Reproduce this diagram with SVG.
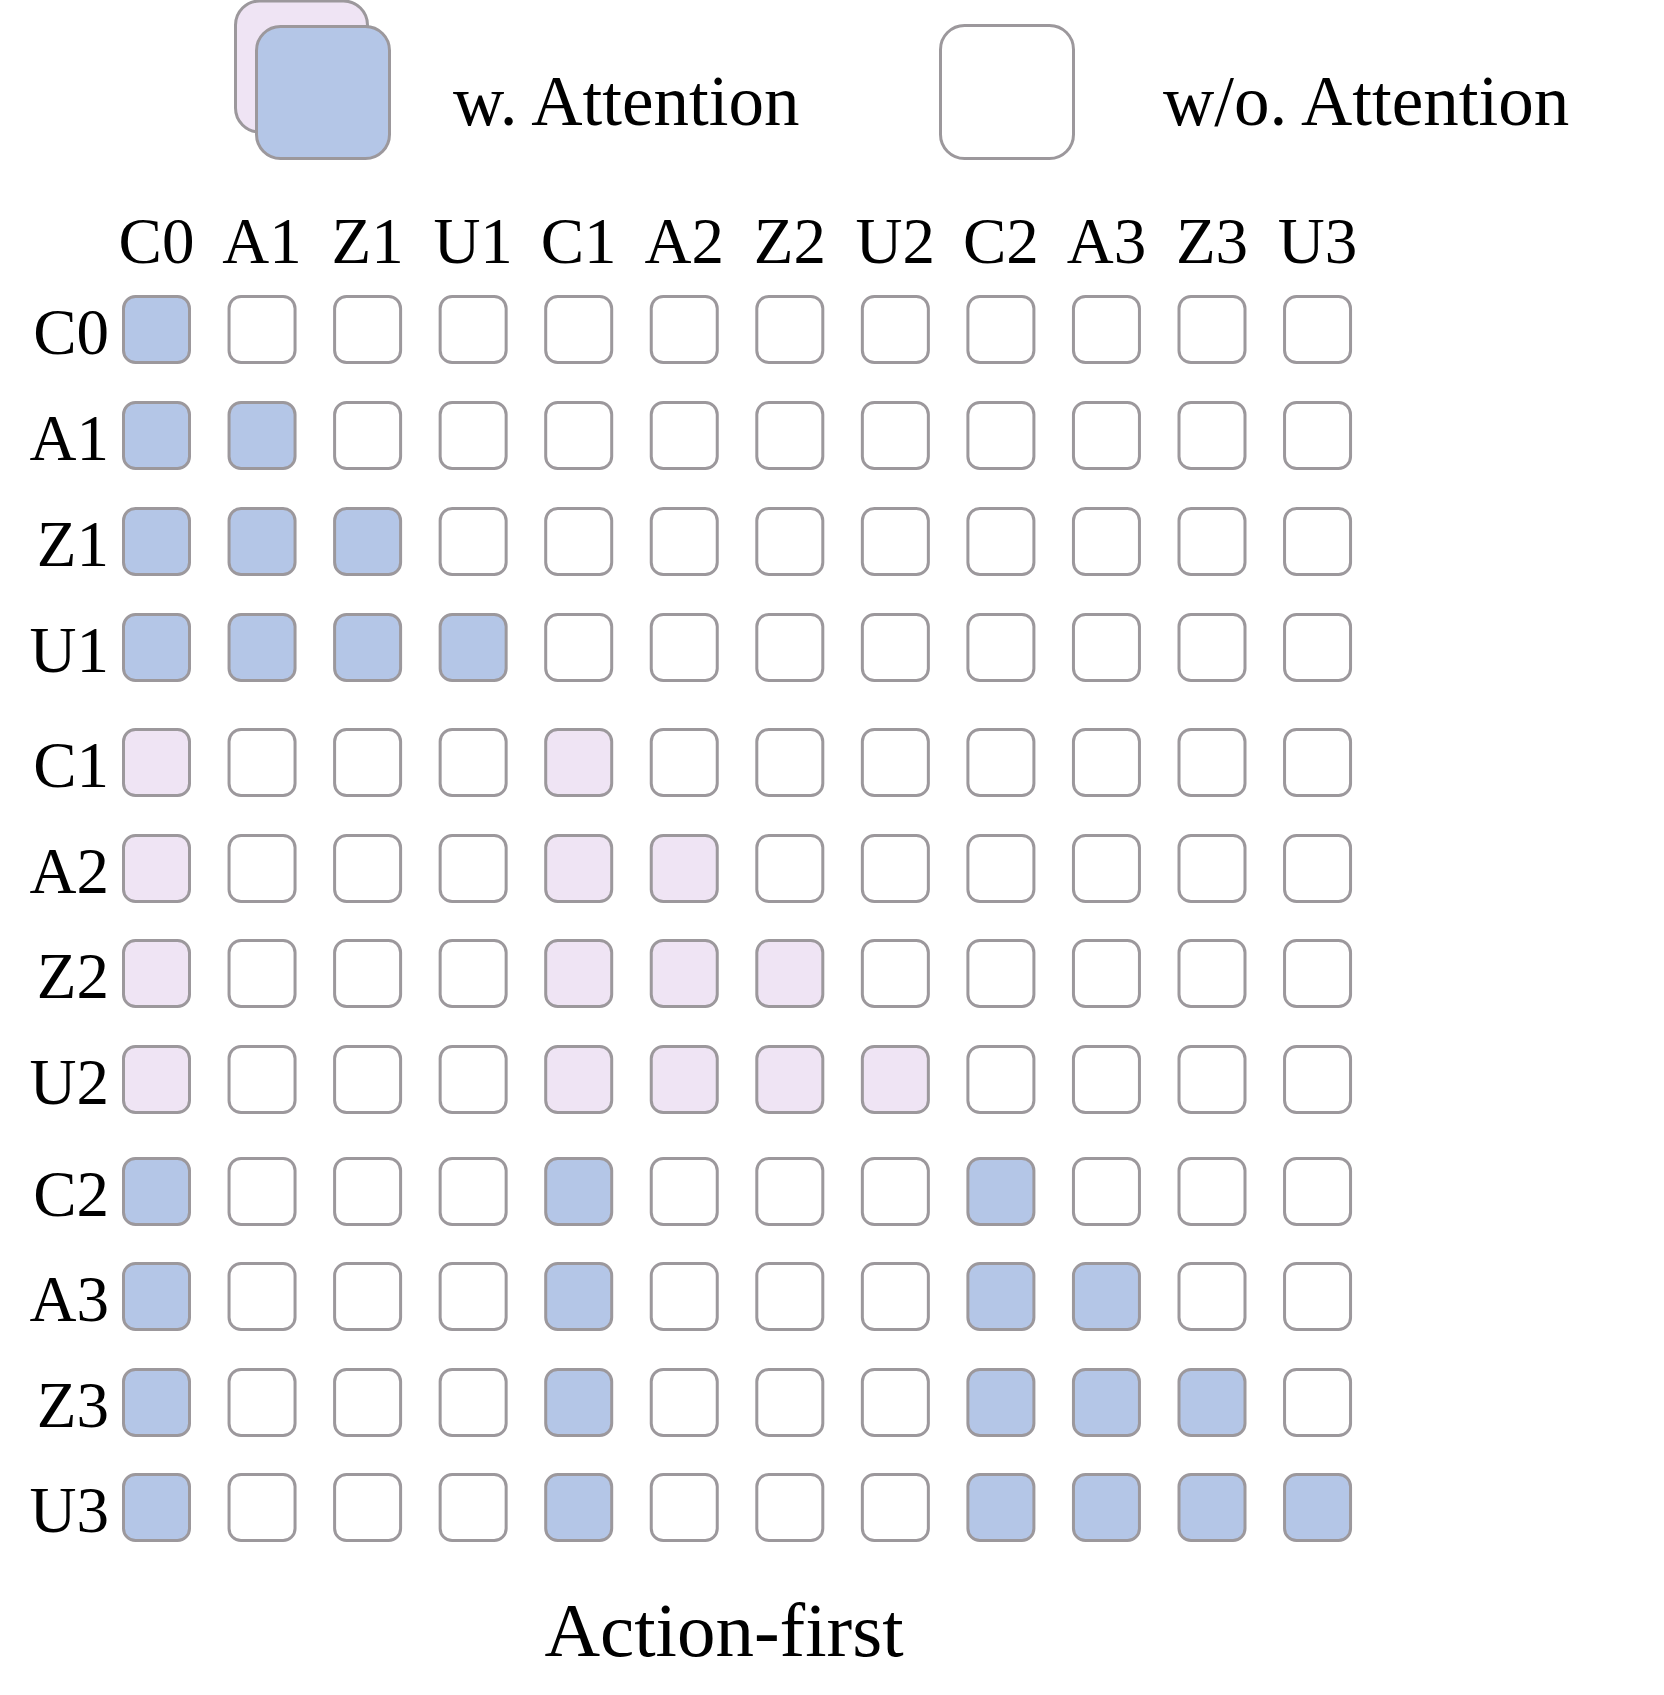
<svg xmlns="http://www.w3.org/2000/svg" width="1664" height="1695" viewBox="0 0 1664 1695">
<style>
  .c{stroke:#9c989c;stroke-width:3;fill:#ffffff}
  .b{fill:#b4c6e7}
  .p{fill:#efe4f4}
  .t{font-family:"Liberation Serif","Times New Roman",serif;fill:#000000}
  .h{font-size:65px;text-anchor:middle}
  .r{font-size:65px;text-anchor:end}
  .lg{font-size:71px}
</style>
<rect x="0" y="0" width="1664" height="1695" fill="#ffffff"/>
<g id="legend">
  <g id="legend-with">
    <rect class="c p" x="235.5" y="1" width="132" height="131" rx="24"/>
    <rect class="c b" x="256.5" y="26.5" width="133" height="132" rx="24"/>
    <text class="t lg" x="453" y="125">w. Attention</text>
  </g>
  <g id="legend-without">
    <rect class="c" x="940.5" y="25.5" width="133" height="133" rx="24"/>
    <text class="t lg" x="1163" y="125">w/o. Attention</text>
  </g>
</g>
<g id="col-headers">
  <text class="t h" x="156.5" y="263">C0</text>
  <text class="t h" x="262.05" y="263">A1</text>
  <text class="t h" x="367.6" y="263">Z1</text>
  <text class="t h" x="473.15" y="263">U1</text>
  <text class="t h" x="578.7" y="263">C1</text>
  <text class="t h" x="684.25" y="263">A2</text>
  <text class="t h" x="789.8" y="263">Z2</text>
  <text class="t h" x="895.35" y="263">U2</text>
  <text class="t h" x="1000.9" y="263">C2</text>
  <text class="t h" x="1106.45" y="263">A3</text>
  <text class="t h" x="1212" y="263">Z3</text>
  <text class="t h" x="1317.55" y="263">U3</text>
</g>
<g id="row-labels">
  <text class="t r" x="109" y="353.5">C0</text>
  <text class="t r" x="109" y="459.5">A1</text>
  <text class="t r" x="109" y="565.5">Z1</text>
  <text class="t r" x="109" y="671.5">U1</text>
  <text class="t r" x="109" y="786.5">C1</text>
  <text class="t r" x="109" y="892.5">A2</text>
  <text class="t r" x="109" y="997.5">Z2</text>
  <text class="t r" x="109" y="1103.5">U2</text>
  <text class="t r" x="109" y="1215.5">C2</text>
  <text class="t r" x="109" y="1320.5">A3</text>
  <text class="t r" x="109" y="1426.5">Z3</text>
  <text class="t r" x="109" y="1531.5">U3</text>
</g>
<g id="row-C0">
  <rect id="C0-C0" class="c b" x="123.5" y="296.5" width="66" height="66" rx="12"/>
  <rect id="C0-A1" class="c" x="229.05" y="296.5" width="66" height="66" rx="12"/>
  <rect id="C0-Z1" class="c" x="334.6" y="296.5" width="66" height="66" rx="12"/>
  <rect id="C0-U1" class="c" x="440.15" y="296.5" width="66" height="66" rx="12"/>
  <rect id="C0-C1" class="c" x="545.7" y="296.5" width="66" height="66" rx="12"/>
  <rect id="C0-A2" class="c" x="651.25" y="296.5" width="66" height="66" rx="12"/>
  <rect id="C0-Z2" class="c" x="756.8" y="296.5" width="66" height="66" rx="12"/>
  <rect id="C0-U2" class="c" x="862.35" y="296.5" width="66" height="66" rx="12"/>
  <rect id="C0-C2" class="c" x="967.9" y="296.5" width="66" height="66" rx="12"/>
  <rect id="C0-A3" class="c" x="1073.45" y="296.5" width="66" height="66" rx="12"/>
  <rect id="C0-Z3" class="c" x="1179" y="296.5" width="66" height="66" rx="12"/>
  <rect id="C0-U3" class="c" x="1284.55" y="296.5" width="66" height="66" rx="12"/>
</g>
<g id="row-A1">
  <rect id="A1-C0" class="c b" x="123.5" y="402.5" width="66" height="66" rx="12"/>
  <rect id="A1-A1" class="c b" x="229.05" y="402.5" width="66" height="66" rx="12"/>
  <rect id="A1-Z1" class="c" x="334.6" y="402.5" width="66" height="66" rx="12"/>
  <rect id="A1-U1" class="c" x="440.15" y="402.5" width="66" height="66" rx="12"/>
  <rect id="A1-C1" class="c" x="545.7" y="402.5" width="66" height="66" rx="12"/>
  <rect id="A1-A2" class="c" x="651.25" y="402.5" width="66" height="66" rx="12"/>
  <rect id="A1-Z2" class="c" x="756.8" y="402.5" width="66" height="66" rx="12"/>
  <rect id="A1-U2" class="c" x="862.35" y="402.5" width="66" height="66" rx="12"/>
  <rect id="A1-C2" class="c" x="967.9" y="402.5" width="66" height="66" rx="12"/>
  <rect id="A1-A3" class="c" x="1073.45" y="402.5" width="66" height="66" rx="12"/>
  <rect id="A1-Z3" class="c" x="1179" y="402.5" width="66" height="66" rx="12"/>
  <rect id="A1-U3" class="c" x="1284.55" y="402.5" width="66" height="66" rx="12"/>
</g>
<g id="row-Z1">
  <rect id="Z1-C0" class="c b" x="123.5" y="508.5" width="66" height="66" rx="12"/>
  <rect id="Z1-A1" class="c b" x="229.05" y="508.5" width="66" height="66" rx="12"/>
  <rect id="Z1-Z1" class="c b" x="334.6" y="508.5" width="66" height="66" rx="12"/>
  <rect id="Z1-U1" class="c" x="440.15" y="508.5" width="66" height="66" rx="12"/>
  <rect id="Z1-C1" class="c" x="545.7" y="508.5" width="66" height="66" rx="12"/>
  <rect id="Z1-A2" class="c" x="651.25" y="508.5" width="66" height="66" rx="12"/>
  <rect id="Z1-Z2" class="c" x="756.8" y="508.5" width="66" height="66" rx="12"/>
  <rect id="Z1-U2" class="c" x="862.35" y="508.5" width="66" height="66" rx="12"/>
  <rect id="Z1-C2" class="c" x="967.9" y="508.5" width="66" height="66" rx="12"/>
  <rect id="Z1-A3" class="c" x="1073.45" y="508.5" width="66" height="66" rx="12"/>
  <rect id="Z1-Z3" class="c" x="1179" y="508.5" width="66" height="66" rx="12"/>
  <rect id="Z1-U3" class="c" x="1284.55" y="508.5" width="66" height="66" rx="12"/>
</g>
<g id="row-U1">
  <rect id="U1-C0" class="c b" x="123.5" y="614.5" width="66" height="66" rx="12"/>
  <rect id="U1-A1" class="c b" x="229.05" y="614.5" width="66" height="66" rx="12"/>
  <rect id="U1-Z1" class="c b" x="334.6" y="614.5" width="66" height="66" rx="12"/>
  <rect id="U1-U1" class="c b" x="440.15" y="614.5" width="66" height="66" rx="12"/>
  <rect id="U1-C1" class="c" x="545.7" y="614.5" width="66" height="66" rx="12"/>
  <rect id="U1-A2" class="c" x="651.25" y="614.5" width="66" height="66" rx="12"/>
  <rect id="U1-Z2" class="c" x="756.8" y="614.5" width="66" height="66" rx="12"/>
  <rect id="U1-U2" class="c" x="862.35" y="614.5" width="66" height="66" rx="12"/>
  <rect id="U1-C2" class="c" x="967.9" y="614.5" width="66" height="66" rx="12"/>
  <rect id="U1-A3" class="c" x="1073.45" y="614.5" width="66" height="66" rx="12"/>
  <rect id="U1-Z3" class="c" x="1179" y="614.5" width="66" height="66" rx="12"/>
  <rect id="U1-U3" class="c" x="1284.55" y="614.5" width="66" height="66" rx="12"/>
</g>
<g id="row-C1">
  <rect id="C1-C0" class="c p" x="123.5" y="729.5" width="66" height="66" rx="12"/>
  <rect id="C1-A1" class="c" x="229.05" y="729.5" width="66" height="66" rx="12"/>
  <rect id="C1-Z1" class="c" x="334.6" y="729.5" width="66" height="66" rx="12"/>
  <rect id="C1-U1" class="c" x="440.15" y="729.5" width="66" height="66" rx="12"/>
  <rect id="C1-C1" class="c p" x="545.7" y="729.5" width="66" height="66" rx="12"/>
  <rect id="C1-A2" class="c" x="651.25" y="729.5" width="66" height="66" rx="12"/>
  <rect id="C1-Z2" class="c" x="756.8" y="729.5" width="66" height="66" rx="12"/>
  <rect id="C1-U2" class="c" x="862.35" y="729.5" width="66" height="66" rx="12"/>
  <rect id="C1-C2" class="c" x="967.9" y="729.5" width="66" height="66" rx="12"/>
  <rect id="C1-A3" class="c" x="1073.45" y="729.5" width="66" height="66" rx="12"/>
  <rect id="C1-Z3" class="c" x="1179" y="729.5" width="66" height="66" rx="12"/>
  <rect id="C1-U3" class="c" x="1284.55" y="729.5" width="66" height="66" rx="12"/>
</g>
<g id="row-A2">
  <rect id="A2-C0" class="c p" x="123.5" y="835.5" width="66" height="66" rx="12"/>
  <rect id="A2-A1" class="c" x="229.05" y="835.5" width="66" height="66" rx="12"/>
  <rect id="A2-Z1" class="c" x="334.6" y="835.5" width="66" height="66" rx="12"/>
  <rect id="A2-U1" class="c" x="440.15" y="835.5" width="66" height="66" rx="12"/>
  <rect id="A2-C1" class="c p" x="545.7" y="835.5" width="66" height="66" rx="12"/>
  <rect id="A2-A2" class="c p" x="651.25" y="835.5" width="66" height="66" rx="12"/>
  <rect id="A2-Z2" class="c" x="756.8" y="835.5" width="66" height="66" rx="12"/>
  <rect id="A2-U2" class="c" x="862.35" y="835.5" width="66" height="66" rx="12"/>
  <rect id="A2-C2" class="c" x="967.9" y="835.5" width="66" height="66" rx="12"/>
  <rect id="A2-A3" class="c" x="1073.45" y="835.5" width="66" height="66" rx="12"/>
  <rect id="A2-Z3" class="c" x="1179" y="835.5" width="66" height="66" rx="12"/>
  <rect id="A2-U3" class="c" x="1284.55" y="835.5" width="66" height="66" rx="12"/>
</g>
<g id="row-Z2">
  <rect id="Z2-C0" class="c p" x="123.5" y="940.5" width="66" height="66" rx="12"/>
  <rect id="Z2-A1" class="c" x="229.05" y="940.5" width="66" height="66" rx="12"/>
  <rect id="Z2-Z1" class="c" x="334.6" y="940.5" width="66" height="66" rx="12"/>
  <rect id="Z2-U1" class="c" x="440.15" y="940.5" width="66" height="66" rx="12"/>
  <rect id="Z2-C1" class="c p" x="545.7" y="940.5" width="66" height="66" rx="12"/>
  <rect id="Z2-A2" class="c p" x="651.25" y="940.5" width="66" height="66" rx="12"/>
  <rect id="Z2-Z2" class="c p" x="756.8" y="940.5" width="66" height="66" rx="12"/>
  <rect id="Z2-U2" class="c" x="862.35" y="940.5" width="66" height="66" rx="12"/>
  <rect id="Z2-C2" class="c" x="967.9" y="940.5" width="66" height="66" rx="12"/>
  <rect id="Z2-A3" class="c" x="1073.45" y="940.5" width="66" height="66" rx="12"/>
  <rect id="Z2-Z3" class="c" x="1179" y="940.5" width="66" height="66" rx="12"/>
  <rect id="Z2-U3" class="c" x="1284.55" y="940.5" width="66" height="66" rx="12"/>
</g>
<g id="row-U2">
  <rect id="U2-C0" class="c p" x="123.5" y="1046.5" width="66" height="66" rx="12"/>
  <rect id="U2-A1" class="c" x="229.05" y="1046.5" width="66" height="66" rx="12"/>
  <rect id="U2-Z1" class="c" x="334.6" y="1046.5" width="66" height="66" rx="12"/>
  <rect id="U2-U1" class="c" x="440.15" y="1046.5" width="66" height="66" rx="12"/>
  <rect id="U2-C1" class="c p" x="545.7" y="1046.5" width="66" height="66" rx="12"/>
  <rect id="U2-A2" class="c p" x="651.25" y="1046.5" width="66" height="66" rx="12"/>
  <rect id="U2-Z2" class="c p" x="756.8" y="1046.5" width="66" height="66" rx="12"/>
  <rect id="U2-U2" class="c p" x="862.35" y="1046.5" width="66" height="66" rx="12"/>
  <rect id="U2-C2" class="c" x="967.9" y="1046.5" width="66" height="66" rx="12"/>
  <rect id="U2-A3" class="c" x="1073.45" y="1046.5" width="66" height="66" rx="12"/>
  <rect id="U2-Z3" class="c" x="1179" y="1046.5" width="66" height="66" rx="12"/>
  <rect id="U2-U3" class="c" x="1284.55" y="1046.5" width="66" height="66" rx="12"/>
</g>
<g id="row-C2">
  <rect id="C2-C0" class="c b" x="123.5" y="1158.5" width="66" height="66" rx="12"/>
  <rect id="C2-A1" class="c" x="229.05" y="1158.5" width="66" height="66" rx="12"/>
  <rect id="C2-Z1" class="c" x="334.6" y="1158.5" width="66" height="66" rx="12"/>
  <rect id="C2-U1" class="c" x="440.15" y="1158.5" width="66" height="66" rx="12"/>
  <rect id="C2-C1" class="c b" x="545.7" y="1158.5" width="66" height="66" rx="12"/>
  <rect id="C2-A2" class="c" x="651.25" y="1158.5" width="66" height="66" rx="12"/>
  <rect id="C2-Z2" class="c" x="756.8" y="1158.5" width="66" height="66" rx="12"/>
  <rect id="C2-U2" class="c" x="862.35" y="1158.5" width="66" height="66" rx="12"/>
  <rect id="C2-C2" class="c b" x="967.9" y="1158.5" width="66" height="66" rx="12"/>
  <rect id="C2-A3" class="c" x="1073.45" y="1158.5" width="66" height="66" rx="12"/>
  <rect id="C2-Z3" class="c" x="1179" y="1158.5" width="66" height="66" rx="12"/>
  <rect id="C2-U3" class="c" x="1284.55" y="1158.5" width="66" height="66" rx="12"/>
</g>
<g id="row-A3">
  <rect id="A3-C0" class="c b" x="123.5" y="1263.5" width="66" height="66" rx="12"/>
  <rect id="A3-A1" class="c" x="229.05" y="1263.5" width="66" height="66" rx="12"/>
  <rect id="A3-Z1" class="c" x="334.6" y="1263.5" width="66" height="66" rx="12"/>
  <rect id="A3-U1" class="c" x="440.15" y="1263.5" width="66" height="66" rx="12"/>
  <rect id="A3-C1" class="c b" x="545.7" y="1263.5" width="66" height="66" rx="12"/>
  <rect id="A3-A2" class="c" x="651.25" y="1263.5" width="66" height="66" rx="12"/>
  <rect id="A3-Z2" class="c" x="756.8" y="1263.5" width="66" height="66" rx="12"/>
  <rect id="A3-U2" class="c" x="862.35" y="1263.5" width="66" height="66" rx="12"/>
  <rect id="A3-C2" class="c b" x="967.9" y="1263.5" width="66" height="66" rx="12"/>
  <rect id="A3-A3" class="c b" x="1073.45" y="1263.5" width="66" height="66" rx="12"/>
  <rect id="A3-Z3" class="c" x="1179" y="1263.5" width="66" height="66" rx="12"/>
  <rect id="A3-U3" class="c" x="1284.55" y="1263.5" width="66" height="66" rx="12"/>
</g>
<g id="row-Z3">
  <rect id="Z3-C0" class="c b" x="123.5" y="1369.5" width="66" height="66" rx="12"/>
  <rect id="Z3-A1" class="c" x="229.05" y="1369.5" width="66" height="66" rx="12"/>
  <rect id="Z3-Z1" class="c" x="334.6" y="1369.5" width="66" height="66" rx="12"/>
  <rect id="Z3-U1" class="c" x="440.15" y="1369.5" width="66" height="66" rx="12"/>
  <rect id="Z3-C1" class="c b" x="545.7" y="1369.5" width="66" height="66" rx="12"/>
  <rect id="Z3-A2" class="c" x="651.25" y="1369.5" width="66" height="66" rx="12"/>
  <rect id="Z3-Z2" class="c" x="756.8" y="1369.5" width="66" height="66" rx="12"/>
  <rect id="Z3-U2" class="c" x="862.35" y="1369.5" width="66" height="66" rx="12"/>
  <rect id="Z3-C2" class="c b" x="967.9" y="1369.5" width="66" height="66" rx="12"/>
  <rect id="Z3-A3" class="c b" x="1073.45" y="1369.5" width="66" height="66" rx="12"/>
  <rect id="Z3-Z3" class="c b" x="1179" y="1369.5" width="66" height="66" rx="12"/>
  <rect id="Z3-U3" class="c" x="1284.55" y="1369.5" width="66" height="66" rx="12"/>
</g>
<g id="row-U3">
  <rect id="U3-C0" class="c b" x="123.5" y="1474.5" width="66" height="66" rx="12"/>
  <rect id="U3-A1" class="c" x="229.05" y="1474.5" width="66" height="66" rx="12"/>
  <rect id="U3-Z1" class="c" x="334.6" y="1474.5" width="66" height="66" rx="12"/>
  <rect id="U3-U1" class="c" x="440.15" y="1474.5" width="66" height="66" rx="12"/>
  <rect id="U3-C1" class="c b" x="545.7" y="1474.5" width="66" height="66" rx="12"/>
  <rect id="U3-A2" class="c" x="651.25" y="1474.5" width="66" height="66" rx="12"/>
  <rect id="U3-Z2" class="c" x="756.8" y="1474.5" width="66" height="66" rx="12"/>
  <rect id="U3-U2" class="c" x="862.35" y="1474.5" width="66" height="66" rx="12"/>
  <rect id="U3-C2" class="c b" x="967.9" y="1474.5" width="66" height="66" rx="12"/>
  <rect id="U3-A3" class="c b" x="1073.45" y="1474.5" width="66" height="66" rx="12"/>
  <rect id="U3-Z3" class="c b" x="1179" y="1474.5" width="66" height="66" rx="12"/>
  <rect id="U3-U3" class="c b" x="1284.55" y="1474.5" width="66" height="66" rx="12"/>
</g>
<g id="connectors"></g>
<g id="title">
  <text class="t" x="724" y="1656" font-size="77" text-anchor="middle">Action-first</text>
</g>
</svg>
